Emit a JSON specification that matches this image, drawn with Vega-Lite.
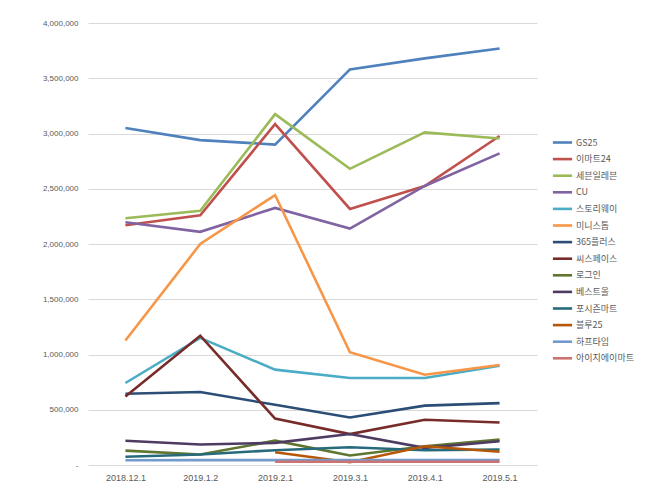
{
  "$schema": "https://vega.github.io/schema/vega-lite/v6.json",
  "autosize": "none",
  "width": 449,
  "height": 442,
  "padding": {"left": 88, "top": 23, "right": 123, "bottom": 36},
  "background": "white",
  "config": {
    "view": {"stroke": null},
    "font": "Noto Sans CJK KR"
  },
  "data": {
    "values": [
      {"d": "2018.12.1", "s": "GS25", "v": 3050000},
      {"d": "2019.1.2", "s": "GS25", "v": 2940000},
      {"d": "2019.2.1", "s": "GS25", "v": 2900000},
      {"d": "2019.3.1", "s": "GS25", "v": 3580000},
      {"d": "2019.4.1", "s": "GS25", "v": 3680000},
      {"d": "2019.5.1", "s": "GS25", "v": 3770000},
      {"d": "2018.12.1", "s": "이마트24", "v": 2170000},
      {"d": "2019.1.2", "s": "이마트24", "v": 2260000},
      {"d": "2019.2.1", "s": "이마트24", "v": 3085000},
      {"d": "2019.3.1", "s": "이마트24", "v": 2317000},
      {"d": "2019.4.1", "s": "이마트24", "v": 2525000},
      {"d": "2019.5.1", "s": "이마트24", "v": 2977000},
      {"d": "2018.12.1", "s": "세븐일레븐", "v": 2233000},
      {"d": "2019.1.2", "s": "세븐일레븐", "v": 2300000},
      {"d": "2019.2.1", "s": "세븐일레븐", "v": 3175000},
      {"d": "2019.3.1", "s": "세븐일레븐", "v": 2680000},
      {"d": "2019.4.1", "s": "세븐일레븐", "v": 3010000},
      {"d": "2019.5.1", "s": "세븐일레븐", "v": 2955000},
      {"d": "2018.12.1", "s": "CU", "v": 2197000},
      {"d": "2019.1.2", "s": "CU", "v": 2110000},
      {"d": "2019.2.1", "s": "CU", "v": 2326000},
      {"d": "2019.3.1", "s": "CU", "v": 2140000},
      {"d": "2019.4.1", "s": "CU", "v": 2525000},
      {"d": "2019.5.1", "s": "CU", "v": 2820000},
      {"d": "2018.12.1", "s": "스토리웨이", "v": 742000},
      {"d": "2019.1.2", "s": "스토리웨이", "v": 1150000},
      {"d": "2019.2.1", "s": "스토리웨이", "v": 863000},
      {"d": "2019.3.1", "s": "스토리웨이", "v": 788000},
      {"d": "2019.4.1", "s": "스토리웨이", "v": 788000},
      {"d": "2019.5.1", "s": "스토리웨이", "v": 899000},
      {"d": "2018.12.1", "s": "미니스톱", "v": 1127000},
      {"d": "2019.1.2", "s": "미니스톱", "v": 2000000},
      {"d": "2019.2.1", "s": "미니스톱", "v": 2443000},
      {"d": "2019.3.1", "s": "미니스톱", "v": 1020000},
      {"d": "2019.4.1", "s": "미니스톱", "v": 817000},
      {"d": "2019.5.1", "s": "미니스톱", "v": 905000},
      {"d": "2018.12.1", "s": "365플러스", "v": 645000},
      {"d": "2019.1.2", "s": "365플러스", "v": 660000},
      {"d": "2019.2.1", "s": "365플러스", "v": 545000},
      {"d": "2019.3.1", "s": "365플러스", "v": 430000},
      {"d": "2019.4.1", "s": "365플러스", "v": 537000},
      {"d": "2019.5.1", "s": "365플러스", "v": 560000},
      {"d": "2018.12.1", "s": "씨스페이스", "v": 620000},
      {"d": "2019.1.2", "s": "씨스페이스", "v": 1170000},
      {"d": "2019.2.1", "s": "씨스페이스", "v": 420000},
      {"d": "2019.3.1", "s": "씨스페이스", "v": 280000},
      {"d": "2019.4.1", "s": "씨스페이스", "v": 410000},
      {"d": "2019.5.1", "s": "씨스페이스", "v": 385000},
      {"d": "2018.12.1", "s": "로그인", "v": 130000},
      {"d": "2019.1.2", "s": "로그인", "v": 95000},
      {"d": "2019.2.1", "s": "로그인", "v": 220000},
      {"d": "2019.3.1", "s": "로그인", "v": 86000},
      {"d": "2019.4.1", "s": "로그인", "v": 170000},
      {"d": "2019.5.1", "s": "로그인", "v": 230000},
      {"d": "2018.12.1", "s": "베스트올", "v": 220000},
      {"d": "2019.1.2", "s": "베스트올", "v": 185000},
      {"d": "2019.2.1", "s": "베스트올", "v": 200000},
      {"d": "2019.3.1", "s": "베스트올", "v": 280000},
      {"d": "2019.4.1", "s": "베스트올", "v": 155000},
      {"d": "2019.5.1", "s": "베스트올", "v": 215000},
      {"d": "2018.12.1", "s": "포시즌마트", "v": 74000},
      {"d": "2019.1.2", "s": "포시즌마트", "v": 95000},
      {"d": "2019.2.1", "s": "포시즌마트", "v": 134000},
      {"d": "2019.3.1", "s": "포시즌마트", "v": 160000},
      {"d": "2019.4.1", "s": "포시즌마트", "v": 134000},
      {"d": "2019.5.1", "s": "포시즌마트", "v": 140000},
      {"d": "2019.2.1", "s": "블루25", "v": 115000},
      {"d": "2019.3.1", "s": "블루25", "v": 25000},
      {"d": "2019.4.1", "s": "블루25", "v": 170000},
      {"d": "2019.5.1", "s": "블루25", "v": 120000},
      {"d": "2018.12.1", "s": "하프타임", "v": 43000},
      {"d": "2019.1.2", "s": "하프타임", "v": 44000},
      {"d": "2019.2.1", "s": "하프타임", "v": 44000},
      {"d": "2019.3.1", "s": "하프타임", "v": 44000},
      {"d": "2019.4.1", "s": "하프타임", "v": 44000},
      {"d": "2019.5.1", "s": "하프타임", "v": 44000},
      {"d": "2019.2.1", "s": "아이지에이마트", "v": 30000},
      {"d": "2019.3.1", "s": "아이지에이마트", "v": 30000},
      {"d": "2019.4.1", "s": "아이지에이마트", "v": 30000},
      {"d": "2019.5.1", "s": "아이지에이마트", "v": 30000}
    ]
  },
  "mark": {"type": "line", "strokeWidth": 2.6, "strokeJoin": "miter"},
  "encoding": {
    "x": {
      "field": "d",
      "type": "ordinal",
      "sort": null,
      "scale": {"type": "point", "padding": 0.5},
      "axis": {
        "title": null,
        "labelAngle": 0,
        "domain": false,
        "ticks": false,
        "labelFont": "Liberation Sans",
        "labelFontSize": 9,
        "labelColor": "#595959",
        "labelPadding": 8
      }
    },
    "y": {
      "field": "v",
      "type": "quantitative",
      "scale": {"domain": [0, 4000000], "nice": false},
      "axis": {
        "title": null,
        "values": [0, 500000, 1000000, 1500000, 2000000, 2500000, 3000000, 3500000, 4000000],
        "labelExpr": "datum.value == 0 ? '-' : format(datum.value, ',')",
        "domain": false,
        "ticks": false,
        "grid": true,
        "gridColor": "#d9d9d9",
        "gridWidth": 1,
        "labelFont": "Liberation Sans",
        "labelFontSize": 8,
        "labelColor": "#595959",
        "labelPadding": 10
      }
    },
    "color": {
      "field": "s",
      "type": "nominal",
      "scale": {
        "domain": ["GS25", "이마트24", "세븐일레븐", "CU", "스토리웨이", "미니스톱", "365플러스", "씨스페이스", "로그인", "베스트올", "포시즌마트", "블루25", "하프타임", "아이지에이마트"],
        "range": ["#4F81BD", "#C0504D", "#9BBB59", "#8064A2", "#4BACC6", "#F79646", "#2C4D75", "#772C2A", "#5F7530", "#4D3B62", "#276A7C", "#B65708", "#729ACA", "#CD7371"]
      },
      "legend": {
        "title": null,
        "orient": "none",
        "legendX": 467,
        "legendY": 112,
        "symbolType": "M-1.6,0H1.6",
        "symbolSize": 144,
        "symbolStrokeWidth": 2.6,
        "labelFontSize": 9,
        "labelColor": "#595959",
        "labelOffset": 6,
        "rowPadding": 3.6
      }
    },
    "order": {"field": "s"}
  }
}
